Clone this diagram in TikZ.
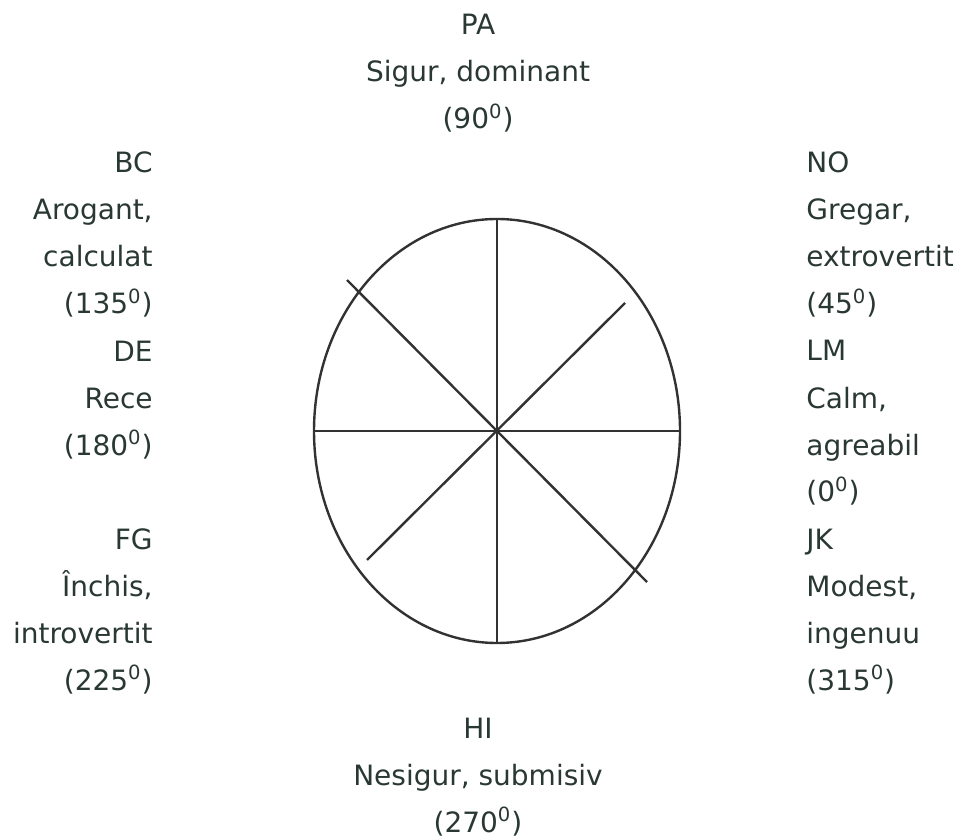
\documentclass[tikz,border=0pt]{standalone}
\usepackage{fontspec}
\setmainfont{DejaVu Sans}
\usepackage{xcolor}
\usepackage{tikz}
\usetikzlibrary{shapes.geometric}

\definecolor{inkgray}{RGB}{42,56,52}
\definecolor{linegray}{RGB}{50,50,50}

\begin{document}
\begin{tikzpicture}[
    x=0.5pt, y=-0.5pt,
    font=\fontsize{14}{23.5}\selectfont,
    rim/.style={ellipse, draw=linegray, line width=1.2pt, minimum width=183pt, minimum height=212pt, inner sep=0pt},
    spoke/.style={draw=linegray, line width=1.2pt},
    leftlabel/.style={anchor=base east, align=right, inner sep=0pt, text=inkgray},
    rightlabel/.style={anchor=base west, align=left, inner sep=0pt, text=inkgray},
    axislabel/.style={anchor=base, align=center, inner sep=0pt, text=inkgray},
]
    \useasboundingbox (0,0) rectangle (958,839);

    % ===== WHEEL =====
    \node[rim] (rim) at (497,431) {};
    \coordinate (nw) at (347,280);
    \coordinate (ne) at (625,303);
    \coordinate (sw) at (367,560);
    \coordinate (se) at (647,582);

    \draw[spoke] (rim.north) -- (rim.south);
    \draw[spoke] (rim.west) -- (rim.east);
    \draw[spoke] (nw) -- (se);
    \draw[spoke] (ne) -- (sw);

    % ===== LABELS (anchored at the baseline of the last line) =====
    \node[axislabel] (pa) at (478,129) {PA\\Sigur, dominant\\(90\textsuperscript{0})};
    \node[axislabel] (hi) at (478,832) {HI\\Nesigur, submisiv\\(270\textsuperscript{0})};

    \node[leftlabel] (bc) at (153,314) {BC\\Arogant,\\calculat\\(135\textsuperscript{0})};
    \node[leftlabel] (de) at (153,455) {DE\\Rece\\(180\textsuperscript{0})};
    \node[leftlabel] (fg) at (153,690) {FG\\Închis,\\introvertit\\(225\textsuperscript{0})};

    \node[rightlabel] (no) at (806,314) {NO\\Gregar,\\extrovertit\\(45\textsuperscript{0})};
    \node[rightlabel] (lm) at (806,502) {LM\\Calm,\\agreabil\\(0\textsuperscript{0})};
    \node[rightlabel] (jk) at (806,690) {JK\\Modest,\\ingenuu\\(315\textsuperscript{0})};

\end{tikzpicture}
\end{document}
